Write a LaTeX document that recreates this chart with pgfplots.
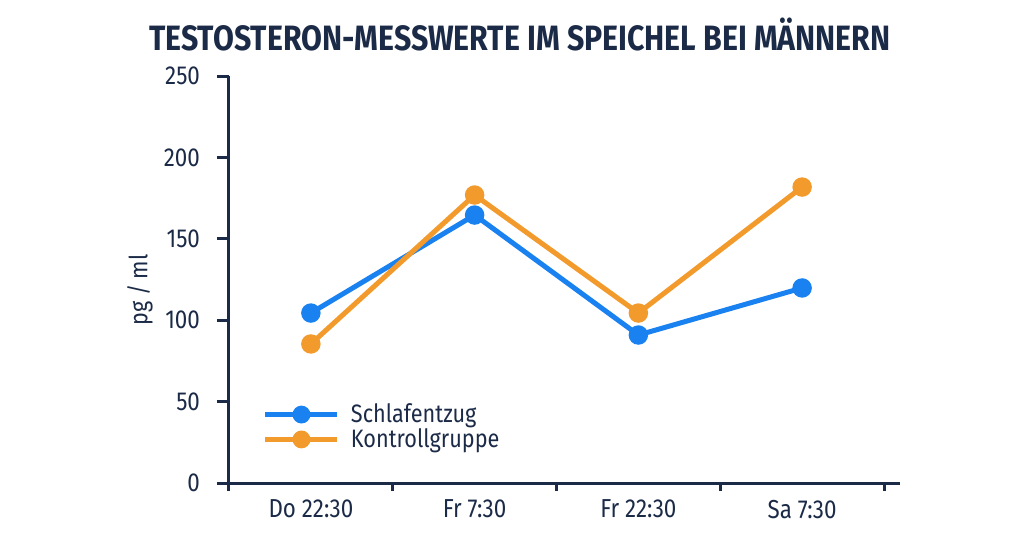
\documentclass[border=0pt]{standalone}
\usepackage{pgfplots}
\pgfplotsset{compat=1.18}
\usepackage{fontspec}
\setmainfont{Fira Sans}[FakeStretch=0.86]
\definecolor{navy}{HTML}{1B2A47}
\definecolor{sblue}{HTML}{1A82F0}
\definecolor{sorange}{HTML}{F39A2C}
\begin{document}
\begin{tikzpicture}
\begin{axis}[
    at={(0,0)}, anchor=origin,
    scale only axis, width=335.7pt, height=203.5pt,
    xmin=0, xmax=4.1, ymin=0, ymax=250,
    axis lines=left, axis line style={navy, line width=1.5pt, -},
    xtick={0,1,2,3,4}, xticklabels={},
    extra x ticks={0.5,1.5,2.5,3.5},
    extra x tick labels={Do 22:30, Fr 7:30, Fr 22:30, Sa 7:30},
    extra x tick style={major tick length=0pt},
    ytick=\empty,
    extra y ticks={0,50,100,150,200,250},
    extra y tick style={major tick length=6pt},
    tick align=outside, major tick length=4pt,
    tick style={navy, line width=1.5pt},
    tick label style={font=\fontsize{13}{15}\selectfont, text=navy},
    /pgf/number format/assume math mode=true,
    xticklabel style={yshift=-5pt},
    yticklabel style={xshift=-5pt},
    ylabel={pg / ml},
    every axis y label/.style={at={(-44.5pt,96.5pt)}, rotate=90, anchor=center,
        font=\fontsize{12.5}{15}\selectfont, text=navy},
    clip=false,
    legend style={draw=none, fill=none, at={(0.05,0.1376)}, anchor=west,
        font=\fontsize{12.6}{15}\selectfont, text=navy,
        row sep=-2.5pt, inner sep=0pt,
        nodes={inner xsep=5.5pt}},
    legend cell align=left,
    legend image code/.code={
        \draw[#1, mark=none] (0pt,0pt) -- (36pt,0pt);
        \draw[#1, mark size=3.2pt] plot coordinates {(18pt,0pt)};
    },
]
\addplot[sblue, line width=2.5pt, mark=*, mark size=3.6pt] coordinates {
    (0.5,104.4) (1.5,164.6) (2.5,90.9) (3.5,119.8)};
\addlegendentry{Schlafentzug}
\addplot[sorange, line width=2.5pt, mark=*, mark size=3.6pt] coordinates {
    (0.5,85.4) (1.5,176.9) (2.5,104.4) (3.5,181.8)};
\addlegendentry{Kontrollgruppe}
\end{axis}
\node[font=\bfseries\fontsize{17.6}{20}\selectfont, text=navy] at (145.5pt,224pt)
    {TESTOSTERON-MESSWERTE IM SPEICHEL BEI MÄNNERN};
\path[use as bounding box] (-114.5pt,-27.5pt) rectangle (397.5pt,241.5pt);
\end{tikzpicture}
\end{document}
